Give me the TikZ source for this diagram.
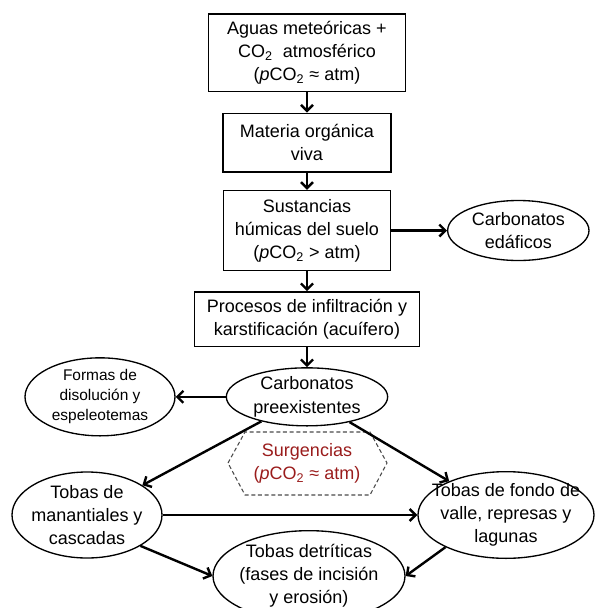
\documentclass[tikz,border=0pt]{standalone}
\usepackage{fontspec}
\setmainfont{Liberation Sans}
\usetikzlibrary{shapes.geometric, arrows.meta, positioning}
\definecolor{surgred}{HTML}{9A1C1C}
\definecolor{dashgray}{HTML}{4A4A4A}

\begin{document}
\begin{tikzpicture}[x=0.75pt, y=-0.75pt, node distance=15pt, font=\fontsize{13.5}{17.3}\selectfont]
\tikzstyle{stage} = [rectangle, draw, line width=1pt, align=center, inner sep=2pt]
\tikzstyle{deposit} = [ellipse, draw, line width=1pt, align=center, inner sep=-16pt]
\tikzstyle{flow} = [line width=1.8pt, -{Straight Barb[length=4.5pt,width=9pt]}]

\clip (0,0) rectangle (596,608);

% vertical chain
\node (aguas) [stage, minimum width=148pt, minimum height=58pt] at (307,52.5) {Aguas meteóricas +\\CO\textsubscript{2}\ \ atmosférico\\(\textit{p}CO\textsubscript{2} ≈ atm)};
\node (materia) [stage, minimum width=126pt, minimum height=44pt, below=15.5pt of aguas] {Materia orgánica\\viva};
\node (humicas) [stage, minimum width=125pt, minimum height=60pt, below=13pt of materia] {Sustancias\\húmicas del suelo\\(\textit{p}CO\textsubscript{2} > atm)};
\node (procesos) [stage, minimum width=169pt, minimum height=41pt, below=15pt of humicas] {Procesos de infiltración y\\karstificación (acuífero)};
\node (preexist) [deposit, minimum width=121pt, minimum height=43.5pt, below=15pt of procesos] {Carbonatos\\preexistentes};

% side nodes
\node (edaficos) [deposit, minimum width=106pt, minimum height=45pt, right=42pt of humicas] {Carbonatos\\edáficos};
\node (formas) [deposit, minimum width=112.5pt, minimum height=58.5pt, left=37.5pt of preexist, font=\fontsize{11.6}{15}\selectfont] {Formas de\\disolución y\\espeleotemas};
\node (surg) [text=surgred, align=center] at (307,463) {Surgencias\\(\textit{p}CO\textsubscript{2} ≈ atm)};
\draw[dashgray, line width=0.8pt, dash pattern=on 3pt off 2pt, shift={(surg.center)}] (-79,0) -- (-62,-31) -- (63,-31) -- (80,0) -- (63,32) -- (-62,32) -- cycle;

% tobas
\node (manantial) [deposit, minimum width=112.5pt, minimum height=64.5pt] at (87,515) {Tobas de\\manantiales y\\cascadas};
\node (fondo) [deposit, minimum width=132pt, minimum height=65pt] at (506,515) {Tobas de fondo de\\valle, represas y\\lagunas};
\node (detritica) [deposit, minimum width=144pt, minimum height=68pt] at (309,576) {Tobas detríticas\\(fases de incisión\\y erosión)};

\draw[flow] (aguas) -- (materia);
\draw[flow] (materia) -- (humicas);
\draw[flow] (humicas) -- (procesos);
\draw[flow] (humicas) -- (edaficos);
\draw[flow] (procesos) -- (preexist);
\draw[flow] (preexist) -- (formas);
\draw[flow] (preexist) -- (manantial);
\draw[flow] (preexist) -- (fondo);
\draw[flow] (manantial) -- (fondo);
\draw[flow] (manantial.-30) -- (detritica.west);
\draw[flow] (fondo.-152) -- (detritica.east);

\end{tikzpicture}
\end{document}
